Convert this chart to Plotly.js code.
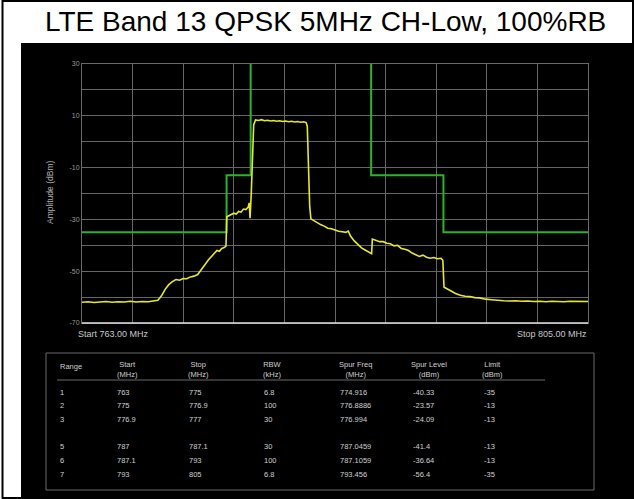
<!DOCTYPE html>
<html>
<head>
<meta charset="utf-8">
<script src="https://cdn.plot.ly/plotly-3.0.1.min.js"></script>
<style>
html,body{margin:0;padding:0;background:#fff;}
#chart{width:634px;height:499px;}
</style>
</head>
<body>
<div id="chart"></div>
<script>
// ---- Data ----
const chartTitle = "LTE Band 13 QPSK 5MHz CH-Low, 100%RB";

const traceFreq = [
  763.0,763.5,764.0,764.5,765.0,765.5,766.0,766.5,767.0,767.5,768.0,768.5,769.0,769.3,769.6,769.9,
  770.2,770.5,770.8,771.1,771.4,771.7,772.0,772.3,772.6,772.9,773.2,773.5,773.8,774.0,774.2,774.4,
  774.6,774.8,774.95,775.02,775.2,775.4,775.6,775.8,776.0,776.2,776.4,776.6,776.8,776.88,776.95,
  777.05,777.15,777.25,777.4,777.65,777.9,778.15,778.4,778.65,778.9,779.15,779.4,779.65,779.9,
  780.15,780.4,780.65,780.9,781.15,781.4,781.6,781.7,781.8,781.9,782.0,782.2,782.5,782.8,783.1,
  783.4,783.7,784.0,784.3,784.6,784.9,785.1,785.3,785.6,785.9,786.2,786.5,786.8,787.04,787.1,
  787.4,787.7,788.0,788.3,788.6,788.9,789.2,789.5,789.8,790.1,790.4,790.7,791.0,791.3,791.6,
  791.9,792.2,792.5,792.8,792.95,793.05,793.3,793.6,794.0,794.4,794.8,795.2,795.6,796.0,796.5,
  797.0,797.5,798.0,798.5,799.0,799.5,800.0,800.5,801.0,801.5,802.0,802.5,803.0,803.5,804.0,
  804.5,805.0
];
const traceLevel = [
  -62.0,-61.8,-62.1,-61.9,-61.7,-62.0,-61.8,-61.9,-61.6,-61.9,-61.7,-61.8,-61.6,-61.2,-59.5,-57.0,
  -55.2,-54.0,-53.2,-53.5,-52.8,-52.9,-52.2,-51.9,-51.3,-49.2,-47.5,-45.6,-44.0,-43.2,-42.0,-42.3,
  -41.2,-40.9,-40.3,-29.0,-28.6,-28.3,-27.6,-27.9,-26.9,-27.2,-26.0,-26.2,-25.2,-23.6,-29.5,
  -20.0,-5.0,6.5,8.4,8.2,8.5,8.1,8.3,8.0,8.2,7.9,8.1,7.8,8.0,
  7.7,7.9,7.6,7.8,7.5,7.7,7.4,6.0,-10.0,-25.0,-29.8,-30.4,-31.2,-32.0,-32.6,
  -33.4,-33.6,-34.2,-34.6,-34.8,-35.0,-34.5,-36.5,-38.3,-39.8,-41.0,-41.8,-42.6,-43.2,-37.6,
  -38.0,-38.6,-38.6,-39.2,-39.4,-40.2,-40.0,-41.2,-41.5,-42.0,-43.0,-43.5,-44.3,-43.8,-44.6,
  -45.0,-44.7,-45.2,-45.0,-45.8,-56.2,-56.8,-57.6,-58.6,-59.3,-59.7,-59.8,-60.2,-60.3,-60.8,
  -61.0,-61.3,-61.4,-61.5,-61.4,-61.6,-61.5,-61.7,-61.6,-61.8,-61.6,-61.7,-61.8,-61.6,-61.7,
  -61.8,-61.7
];

const limitFreq  = [763, 775, 775, 777, 777, 787, 787, 793, 793, 805];
const limitLevel = [-35, -35, -13, -13, 60, 60, -13, -13, -35, -35];

const yTickVals = [-70,-60,-50,-40,-30,-20,-10,0,10,20,30];
const yTickText = ["-70","","-50","","-30","","-10","","10","","30"];
const xGridVals = [763,767.2,771.4,775.6,779.8,784,788.2,792.4,796.6,800.8,805];

const startLabel = "Start 763.00 MHz";
const stopLabel  = "Stop 805.00 MHz";
const yAxisLabel = "Amplitude (dBm)";

const tableHeaders = ["Range", "Start<br>(MHz)", "Stop<br>(MHz)", "RBW<br>(kHz)", "Spur Freq<br>(MHz)", "Spur Level<br>(dBm)", "Limit<br>(dBm)"];
const colRange     = ["1","2","3","","5","6","7"];
const colStart     = ["763","775","776.9","","787","787.1","793"];
const colStop      = ["775","776.9","777","","787.1","793","805"];
const colRBW       = ["6.8","100","30","","30","100","6.8"];
const colSpurFreq  = ["774.916","776.8886","776.994","","787.0459","787.1059","793.456"];
const colSpurLevel = ["-40.33","-23.57","-24.09","","-41.4","-36.64","-56.4"];
const colLimit     = ["-35","-13","-13","","-13","-13","-35"];

// ---- Layout geometry (pixels) ----
const W = 634, H = 499;
const mL = 82, mR = 46, mT = 64, mB = 176;
const pw = W - mL - mR, ph = H - mT - mB;
const px = x => (x - mL) / pw;
const py = y => (H - mB - y) / ph;

const fontFam = "Liberation Sans, Arial, sans-serif";
const annotations = [];

annotations.push({text: chartTitle, xref:"paper", yref:"paper", x: px(325), y: py(21),
  xanchor:"center", yanchor:"middle", showarrow:false,
  font:{family: fontFam, size: 28, color:"#000"}});

annotations.push({text: yAxisLabel, xref:"paper", yref:"paper", x: px(50), y: py(193),
  xanchor:"center", yanchor:"middle", showarrow:false, textangle:-90,
  font:{family: fontFam, size: 8.5, color:"#b0b0b0"}});

annotations.push({text: startLabel, xref:"paper", yref:"paper", x: px(76), y: py(334),
  xanchor:"left", yanchor:"middle", showarrow:false,
  font:{family: fontFam, size: 9, color:"#c8c8c8"}});
annotations.push({text: stopLabel, xref:"paper", yref:"paper", x: px(589), y: py(334),
  xanchor:"right", yanchor:"middle", showarrow:false,
  font:{family: fontFam, size: 9, color:"#c8c8c8"}});

// table
const headerCenters = [null, 127, 198, 272, 355, 429, 492];
const colLefts = [58, 115, 187, 262, 338, 411, 482];
const tFont = {family: fontFam, size: 7.5, color:"#d0d0d0"};
tableHeaders.forEach((h, i) => {
  if (i === 0) {
    annotations.push({text: h, xref:"paper", yref:"paper", x: px(colLefts[0]), y: py(366),
      xanchor:"left", yanchor:"middle", showarrow:false, font: tFont});
  } else {
    annotations.push({text: h, xref:"paper", yref:"paper", x: px(headerCenters[i]), y: py(369.5),
      xanchor:"center", yanchor:"middle", showarrow:false, align:"center", font: tFont});
  }
});
const rowYs = [392, 405.5, 419, 432.5, 446.5, 460.5, 474];
const cols = [colRange, colStart, colStop, colRBW, colSpurFreq, colSpurLevel, colLimit];
cols.forEach((col, ci) => {
  col.forEach((v, ri) => {
    if (v === "") return;
    annotations.push({text: v, xref:"paper", yref:"paper", x: px(colLefts[ci]), y: py(rowYs[ri]),
      xanchor:"left", yanchor:"middle", showarrow:false, font: tFont});
  });
});

const shapes = [
  {type:"rect", xref:"paper", yref:"paper", x0: px(21), x1: px(634), y0: py(499), y1: py(43),
   fillcolor:"#000", line:{width:0}, layer:"below"},
  {type:"rect", xref:"paper", yref:"paper", x0: px(2.5), x1: px(633), y0: py(498), y1: py(1),
   fillcolor:"rgba(0,0,0,0)", line:{color:"#000", width:2}},
  {type:"rect", xref:"paper", yref:"paper", x0: px(46), x1: px(594), y0: py(490), y1: py(353),
   fillcolor:"rgba(0,0,0,0)", line:{color:"#6a6a6a", width:1}},
  {type:"line", xref:"paper", yref:"paper", x0: px(57), x1: px(545), y0: py(380), y1: py(380),
   line:{color:"#6a6a6a", width:1}},
  {type:"line", xref:"paper", yref:"paper", x0: 0, x1: 1, y0: 0, y1: 0,
   line:{color:"#e0e0e0", width:1.5}}
];

const data = [
  {x: limitFreq, y: limitLevel, type:"scatter", mode:"lines",
   line:{color:"#2bb32b", width:2}, hoverinfo:"skip"},
  {x: traceFreq, y: traceLevel, type:"scatter", mode:"lines",
   line:{color:"#e8e82a", width:1.6}, hoverinfo:"skip"}
];

const layout = {
  width: W, height: H,
  margin: {l: mL, r: mR, t: mT, b: mB, pad: 0},
  paper_bgcolor: "#fff",
  plot_bgcolor: "#000",
  showlegend: false,
  xaxis: {range:[763, 805], tickmode:"array", tickvals: xGridVals, showticklabels:false,
    ticks:"", showgrid:true, gridcolor:"#666", gridwidth:1, zeroline:false,
    showline:true, linecolor:"#6a6a6a", linewidth:1, mirror:true, fixedrange:true},
  yaxis: {range:[-70, 30], tickmode:"array", tickvals: yTickVals, ticktext: yTickText,
    ticks:"", showgrid:true, gridcolor:"#666", gridwidth:1, zeroline:false,
    showline:true, linecolor:"#6a6a6a", linewidth:1, mirror:true,
    tickfont:{family: fontFam, size: 7, color:"#9a9a9a"}, fixedrange:true},
  annotations: annotations,
  shapes: shapes
};

Plotly.newPlot("chart", data, layout, {displayModeBar:false, staticPlot:true});
</script>
</body>
</html>
